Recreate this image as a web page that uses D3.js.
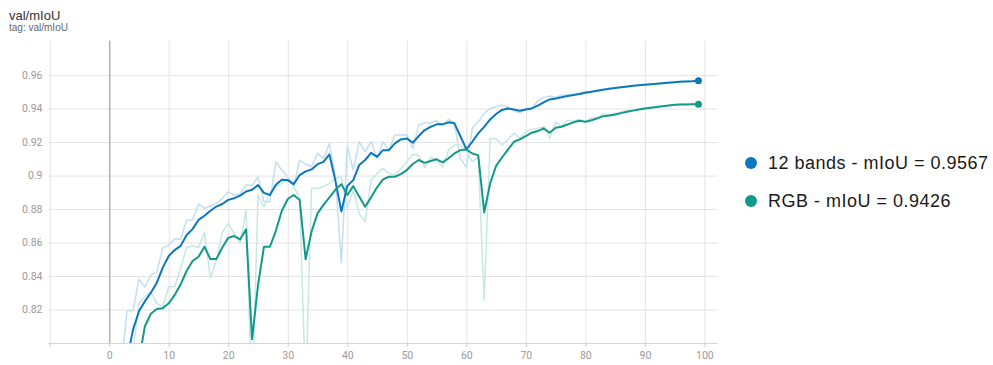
<!DOCTYPE html>
<html>
<head>
<meta charset="utf-8">
<script src="https://cdn.jsdelivr.net/npm/d3@7"></script>
<style>
  body { margin: 0; background: #fff; }
  svg { display: block; font-family: "Liberation Sans", Arial, sans-serif; }
</style>
</head>
<body>
<div id="chart"></div>
<script>
// epochs 0..99
const epochs = d3.range(0, 100);

const xTicks = [-10, 0, 10, 20, 30, 40, 50, 60, 70, 80, 90, 100];
const yTicks = [0.80, 0.82, 0.84, 0.86, 0.88, 0.90, 0.92, 0.94, 0.96];
const yTickLabels = ["", "0.82", "0.84", "0.86", "0.88", "0.9", "0.92", "0.94", "0.96"];

// 12 bands, raw values (light line)
const bandsRaw = [
  0.62, 0.70, 0.785, 0.8193, 0.8193, 0.838, 0.8334, 0.8406, 0.8423, 0.8568,
  0.8585, 0.8622, 0.862, 0.8734, 0.8734, 0.8829, 0.8804, 0.8818, 0.8834, 0.8864,
  0.8903, 0.8884, 0.889, 0.8943, 0.894, 0.8993, 0.8844, 0.8844, 0.9082, 0.9033,
  0.8993, 0.8933, 0.9093, 0.9069, 0.9053, 0.9132, 0.9103, 0.919, 0.8993, 0.848,
  0.9176, 0.9033, 0.9202, 0.9142, 0.9202, 0.9103, 0.9202, 0.9152, 0.9242, 0.9242,
  0.9242, 0.9162, 0.9301, 0.9315, 0.9315, 0.9327, 0.9301, 0.9335, 0.9315, 0.9103,
  0.9049, 0.9282, 0.9321, 0.9371, 0.9401, 0.9411, 0.9421, 0.9407, 0.9387, 0.9375,
  0.9401, 0.9401, 0.9447, 0.9467, 0.9475, 0.9467, 0.9481, 0.9481, 0.9483, 0.9491,
  0.9502, 0.95, 0.9512, 0.9515, 0.952, 0.9523, 0.953, 0.9528, 0.9536, 0.954,
  0.9545, 0.9547, 0.955, 0.9556, 0.9558, 0.956, 0.9563, 0.9565, 0.9568, 0.9569
];

// 12 bands, smoothed values (dark line)
const bandsSmooth = [
  0.60, 0.66, 0.72, 0.79, 0.808, 0.819, 0.825, 0.830, 0.836, 0.845,
  0.852, 0.8555, 0.858, 0.8645, 0.868, 0.8735, 0.876, 0.879, 0.8815, 0.883,
  0.8855, 0.8865, 0.888, 0.8905, 0.8915, 0.8943, 0.8897, 0.8884, 0.8945, 0.8975,
  0.8973, 0.8949, 0.9003, 0.9025, 0.9037, 0.9068, 0.9082, 0.9126, 0.897, 0.8786,
  0.8938, 0.8973, 0.9063, 0.9093, 0.9136, 0.9112, 0.9152, 0.9152, 0.9192, 0.9216,
  0.9222, 0.9196, 0.9236, 0.9272, 0.9291, 0.9306, 0.9306, 0.9318, 0.9312, 0.9235,
  0.9158, 0.9202, 0.9252, 0.9291, 0.9335, 0.9368, 0.9392, 0.9401, 0.9395, 0.9387,
  0.9395, 0.9401, 0.9418, 0.9437, 0.9455, 0.9461, 0.9468, 0.9475, 0.9481, 0.9487,
  0.9495, 0.9501, 0.9507, 0.9513, 0.9518, 0.9523, 0.9528, 0.9532, 0.9536, 0.954,
  0.9543, 0.9546, 0.9549, 0.9552, 0.9555, 0.9558, 0.956, 0.9562, 0.9564, 0.9567
];

// RGB, raw values (light line)
const rgbRaw = [
  0.60, 0.66, 0.72, 0.76, 0.795, 0.8237, 0.8277, 0.8306, 0.8237, 0.8217,
  0.8336, 0.8336, 0.8446, 0.8571, 0.8579, 0.8571, 0.8659, 0.8388, 0.8491, 0.8659,
  0.8714, 0.8655, 0.8595, 0.8794, 0.76, 0.8884, 0.8814, 0.8894, 0.8933, 0.8953,
  0.8973, 0.8933, 0.887, 0.77, 0.8924, 0.8924, 0.8933, 0.8953, 0.8983, 0.8993,
  0.8804, 0.8913, 0.8774, 0.8724, 0.8973, 0.9013, 0.9043, 0.9013, 0.9003, 0.9043,
  0.9082, 0.9128, 0.9122, 0.9049, 0.9109, 0.9097, 0.9049, 0.9152, 0.9182, 0.9182,
  0.9152, 0.9082, 0.9112, 0.8257, 0.9222, 0.9222, 0.9182, 0.9216, 0.9252, 0.9222,
  0.9261, 0.9276, 0.9282, 0.9292, 0.9222, 0.9321, 0.9296, 0.9331, 0.9325, 0.9335,
  0.9318, 0.9345, 0.934, 0.937, 0.9362, 0.937, 0.938, 0.9387, 0.939, 0.9398,
  0.9403, 0.9408, 0.9412, 0.9415, 0.9418, 0.9422, 0.9428, 0.9426, 0.9427, 0.9426
];

// RGB, smoothed values (dark line)
const rgbSmooth = [
  0.58, 0.62, 0.67, 0.72, 0.76, 0.79, 0.81, 0.8175, 0.8203, 0.8207,
  0.8237, 0.8287, 0.835, 0.843, 0.849, 0.8515, 0.8575, 0.8501, 0.8501, 0.857,
  0.8628, 0.8639, 0.8619, 0.8679, 0.8022, 0.8346, 0.8575, 0.8575, 0.867, 0.879,
  0.886, 0.8884, 0.8854, 0.85, 0.8666, 0.8774, 0.8825, 0.887, 0.8915, 0.8949,
  0.8884, 0.8937, 0.8875, 0.8814, 0.887, 0.893, 0.8977, 0.8993, 0.8993, 0.9009,
  0.9033, 0.9069, 0.9093, 0.9076, 0.9087, 0.9097, 0.9079, 0.9103, 0.9132, 0.9152,
  0.9156, 0.9132, 0.9122, 0.878, 0.8953, 0.9058, 0.9108, 0.9155, 0.9202, 0.9216,
  0.9236, 0.9256, 0.9266, 0.9282, 0.9256, 0.9286, 0.9292, 0.9305, 0.9318, 0.9327,
  0.9321, 0.933, 0.9342, 0.9355, 0.9359, 0.9365, 0.9373, 0.9381, 0.9388, 0.9395,
  0.9401, 0.9405, 0.9409, 0.9414, 0.9419, 0.9423, 0.9425, 0.9425, 0.9426, 0.9426
];

const seriesNames = ["12 bands - mIoU = 0.9567", "RGB - mIoU = 0.9426"];
const seriesColors = ["#0b77bd", "#12998a"];
const rawColors = ["#c3def1", "#c6e8e4"];

const width = 993, height = 365;
const plot = { left: 48.5, right: 717.5, top: 40.8, bottom: 343 };

const svg = d3.select("#chart")
    .append("svg")
    .attr("width", width)
    .attr("height", height);

svg.append("rect")
    .attr("width", width)
    .attr("height", height)
    .attr("fill", "#fff");

const x = d3.scaleLinear().domain([-10.2, 102.2]).range([plot.left, plot.right]);
const y = d3.scaleLinear().domain([0.8, 0.9805]).range([plot.bottom, plot.top]);

// Title
svg.append("text")
    .attr("x", 9).attr("y", 20)
    .attr("font-size", 13)
    .attr("fill", "#333")
    .text("val/mIoU");
svg.append("text")
    .attr("x", 9).attr("y", 30.5)
    .attr("font-size", 10)
    .attr("fill", "#666")
    .text("tag: val/mIoU");

// Horizontal grid + y labels
const yAxis = svg.append("g")
    .attr("transform", `translate(${plot.left},0)`)
    .call(d3.axisLeft(y)
        .tickValues(yTicks)
        .tickSize(-(plot.right - plot.left))
        .tickPadding(6)
        .tickFormat((d, i) => yTickLabels[i]));
yAxis.select(".domain").remove();
yAxis.selectAll(".tick line").attr("stroke", "#e3e3e3");
yAxis.selectAll(".tick text")
    .attr("fill", "#9a9a9a")
    .attr("font-size", 10.5)
    .attr("font-family", "Roboto, 'Liberation Sans', sans-serif");

// Vertical grid
const xGrid = svg.append("g")
    .attr("transform", `translate(0,${plot.bottom})`)
    .call(d3.axisBottom(x)
        .tickValues(xTicks)
        .tickSize(-(plot.bottom - plot.top))
        .tickFormat(""));
xGrid.select(".domain").remove();
xGrid.selectAll(".tick line")
    .attr("stroke", d => d === 0 ? "#b5b5b5" : "#e3e3e3")
    .attr("stroke-width", d => d === 0 ? 1.6 : 1);

// Bottom axis
const xAxis = svg.append("g")
    .attr("transform", `translate(0,${plot.bottom})`)
    .call(d3.axisBottom(x)
        .tickValues(xTicks)
        .tickSize(4)
        .tickPadding(5)
        .tickFormat(d => d < 0 ? "" : d));
xAxis.select(".domain")
    .attr("stroke", "#d6d6d6")
    .attr("d", `M${plot.left},0.5H${plot.right}`);
xAxis.selectAll(".tick line").attr("stroke", "#cfcfcf");
xAxis.selectAll(".tick text")
    .attr("fill", "#9a9a9a")
    .attr("font-size", 10.5)
    .attr("font-family", "Roboto, 'Liberation Sans', sans-serif");

// Clip lines to the plot area
svg.append("clipPath")
    .attr("id", "plot-clip")
    .append("rect")
    .attr("x", plot.left)
    .attr("y", plot.top)
    .attr("width", plot.right - plot.left)
    .attr("height", plot.bottom - plot.top);

const lineGen = d3.line()
    .x((d, i) => x(epochs[i]))
    .y(d => y(d));

const lines = svg.append("g").attr("clip-path", "url(#plot-clip)");

const rawSeries = [bandsRaw, rgbRaw];
const smoothSeries = [bandsSmooth, rgbSmooth];

// raw (unsmoothed) lines first, underneath
lines.selectAll(".raw")
    .data(rawSeries)
    .enter()
    .append("path")
    .attr("class", "raw")
    .attr("fill", "none")
    .attr("stroke", (d, i) => rawColors[i])
    .attr("stroke-width", 1.5)
    .attr("stroke-linejoin", "round")
    .attr("d", lineGen);

lines.selectAll(".smooth")
    .data(smoothSeries)
    .enter()
    .append("path")
    .attr("class", "smooth")
    .attr("fill", "none")
    .attr("stroke", (d, i) => seriesColors[i])
    .attr("stroke-width", 2)
    .attr("stroke-linejoin", "round")
    .attr("d", lineGen);

// End points
svg.selectAll(".end")
    .data(smoothSeries)
    .enter()
    .append("circle")
    .attr("class", "end")
    .attr("cx", x(epochs[epochs.length - 1]))
    .attr("cy", d => y(d[d.length - 1]))
    .attr("r", 3.5)
    .attr("fill", (d, i) => seriesColors[i]);

// Legend
const legend = svg.selectAll(".legend")
    .data(seriesNames)
    .enter()
    .append("g")
    .attr("class", "legend")
    .attr("transform", (d, i) => `translate(751,${163 + i * 38})`);

legend.append("circle")
    .attr("r", 6)
    .attr("fill", (d, i) => seriesColors[i]);

legend.append("text")
    .attr("x", 17)
    .attr("dy", "0.36em")
    .attr("font-size", 18)
    .attr("letter-spacing", 0.5)
    .attr("fill", "#1a1a1a")
    .text(d => d);
</script>
</body>
</html>
